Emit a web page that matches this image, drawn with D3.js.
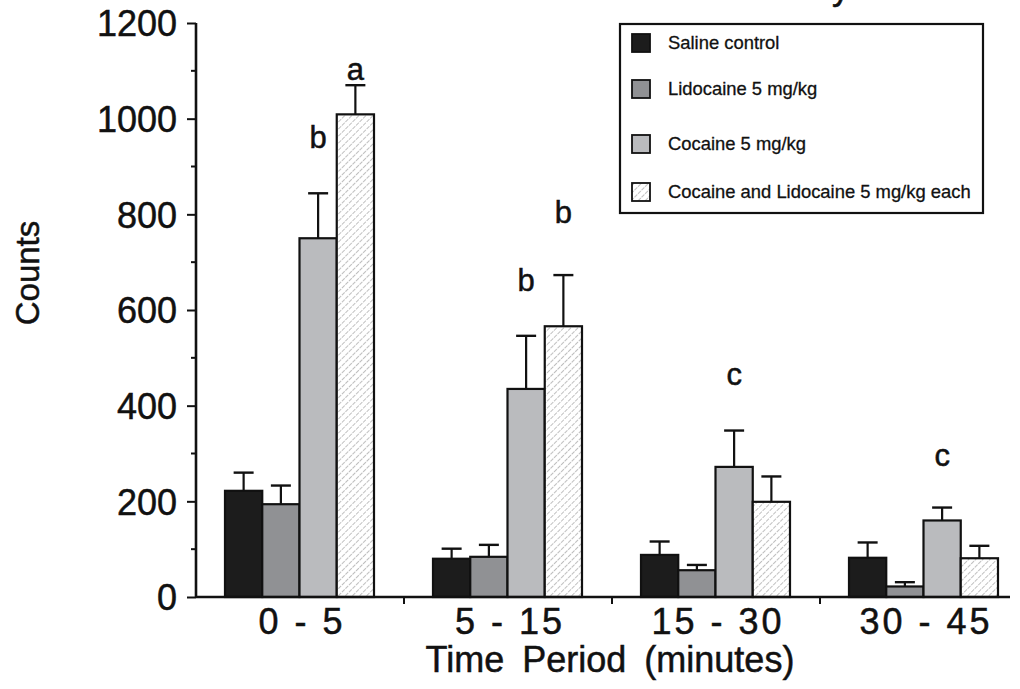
<!DOCTYPE html>
<html>
<head>
<meta charset="utf-8">
<script src="https://cdn.jsdelivr.net/npm/d3@7"></script>
<style>
  html, body { margin: 0; padding: 0; background: #fff; }
  svg { display: block; font-family: "Liberation Sans", Arial, Helvetica, sans-serif; }
  .ink { stroke: #111; stroke-width: 0.5px; }
</style>
</head>
<body>
<svg id="chart" width="1020" height="689"></svg>
<script>
// categories and series
const periods = ['0 - 5', '5 - 15', '15 - 30', '30 - 45'];
const treatments = ['Saline control', 'Lidocaine 5 mg/kg', 'Cocaine 5 mg/kg', 'Cocaine and Lidocaine 5 mg/kg each'];

// mean counts per period, one array per treatment
const saline    = [222, 80, 88, 82];
const lidocaine = [194, 84, 56, 22];
const cocaine   = [750, 435, 272, 160];
const combo     = [1009, 566, 199, 81];

// SEM (upper error bars only)
const salineErr    = [38, 21, 28, 32];
const lidocaineErr = [39, 25, 11, 9];
const cocaineErr   = [94, 111, 76, 27];
const comboErr     = [61, 107, 53, 26];

// significance letters: period, treatment index, letter, height (counts)
const sigLetters = [
  { period: '0 - 5',   t: 3, text: 'a', y: 1081 },
  { period: '0 - 5',   t: 2, text: 'b', y: 939 },
  { period: '5 - 15',  t: 2, text: 'b', y: 640 },
  { period: '5 - 15',  t: 3, text: 'b', y: 782 },
  { period: '15 - 30', t: 2, text: 'c', y: 443 },
  { period: '30 - 45', t: 2, text: 'c', y: 274 }
];

const yTicks = [0, 200, 400, 600, 800, 1000, 1200];
const yMinor = [100, 300, 500, 700, 900, 1100];

const means = [saline, lidocaine, cocaine, combo];
const errs = [salineErr, lidocaineErr, cocaineErr, comboErr];
const fills = ['#1c1c1c', '#909194', '#babbbe', 'url(#hatch)'];

const svg = d3.select('#chart');

// hatch pattern for the combined treatment
const defs = svg.append('defs');
const pat = defs.append('pattern')
  .attr('id', 'hatch')
  .attr('patternUnits', 'userSpaceOnUse')
  .attr('width', 5).attr('height', 5)
  .attr('patternTransform', 'rotate(45)');
pat.append('rect').attr('width', 5).attr('height', 5).attr('fill', '#fff');
pat.append('line')
  .attr('x1', 0).attr('y1', 0).attr('x2', 0).attr('y2', 5)
  .attr('stroke', '#8a8a8a').attr('stroke-width', 1.1)
  .attr('stroke-dasharray', '2,1');

// scales
const x = d3.scaleBand().domain(periods).range([196, 1028]).padding(0);
const xInner = d3.scaleBand().domain(d3.range(treatments.length)).range([29, 178]).padding(0);
const y = d3.scaleLinear().domain([0, 1200]).range([597, 23]);

// bars
const rows = [];
periods.forEach((p, i) => {
  means.forEach((m, t) => rows.push({ period: p, t: t, value: m[i], err: errs[t][i] }));
});

const g = svg.append('g');

g.selectAll('rect.bar')
  .data(rows)
  .join('rect')
  .attr('class', 'bar')
  .attr('x', d => x(d.period) + xInner(d.t))
  .attr('y', d => y(d.value))
  .attr('width', xInner.bandwidth())
  .attr('height', d => y(0) - y(d.value))
  .attr('fill', d => fills[d.t])
  .attr('stroke', '#111')
  .attr('stroke-width', 2.2);

// error bars (upper only)
const eb = g.selectAll('g.err')
  .data(rows)
  .join('g')
  .attr('class', 'err')
  .attr('transform', d => `translate(${x(d.period) + xInner(d.t) + xInner.bandwidth() / 2},0)`);

eb.append('line')
  .attr('x1', 0).attr('x2', 0)
  .attr('y1', d => y(d.value))
  .attr('y2', d => y(d.value + d.err))
  .attr('stroke', '#111').attr('stroke-width', 2.2);

eb.append('line')
  .attr('x1', -10).attr('x2', 10)
  .attr('y1', d => y(d.value + d.err))
  .attr('y2', d => y(d.value + d.err))
  .attr('stroke', '#111').attr('stroke-width', 2.4);

// significance letters
g.selectAll('text.sig')
  .data(sigLetters)
  .join('text')
  .attr('class', 'sig ink')
  .attr('x', d => x(d.period) + xInner(d.t) + xInner.bandwidth() / 2)
  .attr('y', d => y(d.y))
  .attr('text-anchor', 'middle')
  .attr('font-size', 31)
  .attr('fill', '#111')
  .text(d => d.text);

// y axis
const yAxis = svg.append('g')
  .attr('transform', 'translate(196,0)')
  .call(d3.axisLeft(y).tickValues(yTicks).tickFormat(d3.format('d')).tickSize(9).tickPadding(10));
yAxis.select('.domain').attr('stroke', '#111').attr('stroke-width', 2.6)
  .attr('d', `M0,${y(1200)}V${y(0)}`);
yAxis.selectAll('.tick line').attr('stroke', '#111').attr('stroke-width', 2);
yAxis.selectAll('.tick text')
  .attr('class', 'ink')
  .attr('font-size', 36)
  .attr('fill', '#111')
  .attr('dy', '0.36em')
  .style('font-family', '"Liberation Sans", Arial, sans-serif');

svg.append('g')
  .selectAll('line')
  .data(yMinor)
  .join('line')
  .attr('x1', 191).attr('x2', 196)
  .attr('y1', d => y(d)).attr('y2', d => y(d))
  .attr('stroke', '#111').attr('stroke-width', 2);

// x axis
svg.append('line')
  .attr('x1', 196).attr('x2', 1010)
  .attr('y1', y(0)).attr('y2', y(0))
  .attr('stroke', '#111').attr('stroke-width', 2.6);

svg.append('g')
  .selectAll('line')
  .data(periods.slice(1))
  .join('line')
  .attr('x1', d => x(d)).attr('x2', d => x(d))
  .attr('y1', y(0)).attr('y2', y(0) + 7)
  .attr('stroke', '#111').attr('stroke-width', 2);

svg.append('g')
  .selectAll('text')
  .data(periods)
  .join('text')
  .attr('class', 'ink')
  .attr('x', d => x(d) + x.bandwidth() / 2 + 2)
  .attr('y', 634)
  .attr('text-anchor', 'middle')
  .attr('font-size', 36)
  .attr('letter-spacing', 3)
  .attr('fill', '#111')
  .text(d => d);

// axis titles
svg.append('text')
  .attr('class', 'ink')
  .attr('x', 610).attr('y', 672)
  .attr('text-anchor', 'middle')
  .attr('font-size', 36)
  .attr('word-spacing', 8)
  .attr('fill', '#111')
  .text('Time Period (minutes)');

svg.append('text')
  .attr('class', 'ink')
  .attr('transform', 'translate(39,273) rotate(-90)')
  .attr('text-anchor', 'middle')
  .attr('font-size', 33)
  .attr('fill', '#111')
  .text('Counts');

// title, cut by the top edge in the source: only the descender of its last letter shows
svg.append('text')
  .attr('class', 'ink')
  .attr('x', 850).attr('y', -1)
  .attr('text-anchor', 'end')
  .attr('font-size', 36)
  .attr('fill', '#111')
  .text('Locomotor Activity');

// legend
const legend = svg.append('g');
legend.append('rect')
  .attr('x', 620).attr('y', 24)
  .attr('width', 363).attr('height', 189)
  .attr('fill', '#fff')
  .attr('stroke', '#111').attr('stroke-width', 2.2);

const legendY = [43, 89, 144, 192];
const li = legend.selectAll('g.item')
  .data(treatments)
  .join('g')
  .attr('class', 'item')
  .attr('transform', (d, i) => `translate(632,${legendY[i]})`);

li.append('rect')
  .attr('x', 0).attr('y', -9)
  .attr('width', 18).attr('height', 18)
  .attr('fill', (d, i) => fills[i])
  .attr('stroke', '#111').attr('stroke-width', 1.8);

li.append('text')
  .attr('x', 36).attr('y', 0)
  .attr('dy', '0.35em')
  .attr('font-size', 18.4)
  .attr('fill', '#111')
  .style('stroke', '#111').style('stroke-width', '0.3px')
  .text(d => d);
</script>
</body>
</html>
